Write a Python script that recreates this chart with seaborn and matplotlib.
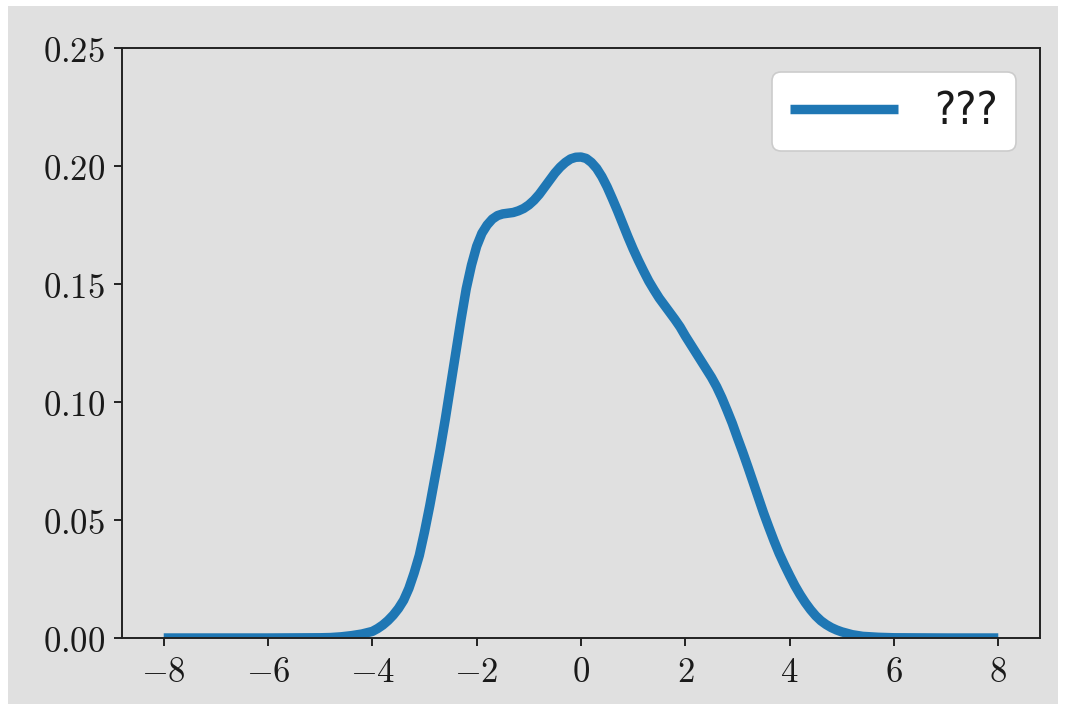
import matplotlib
matplotlib.use("Agg")
import matplotlib.pyplot as plt
from matplotlib.patches import Rectangle
from matplotlib.ticker import FuncFormatter
from matplotlib.font_manager import FontProperties
import pandas as pd
import seaborn as sns

# Density curve sampled along x
x_vals = [-8.0, -7.0, -6.0, -5.0, -4.8, -4.6, -4.4, -4.2, -4.0, -3.9, -3.8,
          -3.7, -3.6, -3.5, -3.4, -3.3, -3.2, -3.1, -3.0, -2.9, -2.8, -2.7,
          -2.6, -2.5, -2.4, -2.3, -2.2, -2.1, -2.0, -1.9, -1.8, -1.7, -1.6,
          -1.5, -1.4, -1.3, -1.2, -1.1, -1.0, -0.9, -0.8, -0.7, -0.6, -0.5,
          -0.4, -0.3, -0.2, -0.1, 0.0, 0.1, 0.2, 0.3, 0.4, 0.5, 0.6, 0.7, 0.8,
          0.9, 1.0, 1.1, 1.2, 1.3, 1.4, 1.5, 1.6, 1.7, 1.8, 1.9, 2.0, 2.1, 2.2,
          2.3, 2.4, 2.5, 2.6, 2.7, 2.8, 2.9, 3.0, 3.1, 3.2, 3.3, 3.4, 3.5, 3.6,
          3.7, 3.8, 3.9, 4.0, 4.1, 4.2, 4.3, 4.4, 4.5, 4.6, 4.7, 4.8, 4.9, 5.0,
          5.2, 5.4, 5.7, 6.0, 7.0, 8.0]
density = [0.0, 0.0, 0.0, 0.0001, 0.0002, 0.0005, 0.0010, 0.0017, 0.0028,
           0.0040, 0.0055, 0.0074, 0.0097, 0.0125, 0.0160, 0.0210, 0.0275,
           0.0350, 0.0450, 0.0560, 0.0680, 0.0800, 0.0930, 0.1070, 0.1210,
           0.1350, 0.1480, 0.1580, 0.1660, 0.1715, 0.1750, 0.1775, 0.1790,
           0.1797, 0.1800, 0.1803, 0.1810, 0.1820, 0.1835, 0.1855, 0.1880,
           0.1910, 0.1940, 0.1970, 0.1995, 0.2015, 0.2030, 0.2037, 0.2038,
           0.2032, 0.2015, 0.1990, 0.1955, 0.1912, 0.1862, 0.1810, 0.1755,
           0.1700, 0.1648, 0.1600, 0.1555, 0.1512, 0.1475, 0.1440, 0.1410,
           0.1380, 0.1350, 0.1318, 0.1280, 0.1245, 0.1210, 0.1175, 0.1140,
           0.1105, 0.1065, 0.1018, 0.0965, 0.0910, 0.0848, 0.0788, 0.0725,
           0.0660, 0.0595, 0.0530, 0.0470, 0.0412, 0.0358, 0.0310, 0.0265,
           0.0222, 0.0184, 0.0150, 0.0120, 0.0094, 0.0073, 0.0057, 0.0044,
           0.0034, 0.0026, 0.0014, 0.0007, 0.0003, 0.0001, 0.0, 0.0]
series_label = "???"

x_ticks = [-8, -6, -4, -2, 0, 2, 4, 6, 8]
y_ticks = [0.00, 0.05, 0.10, 0.15, 0.20, 0.25]

df = pd.DataFrame({"x": x_vals, "density": density})

plt.rcParams["mathtext.fontset"] = "cm"

bg = "#e0e0e0"
fig = plt.figure(figsize=(10.66, 7.10), dpi=100, facecolor="white")
# grey panel behind the whole plot
fig.patches.append(Rectangle((8 / 1066, 6 / 710), 1050 / 1066, 698 / 710,
                             transform=fig.transFigure, facecolor=bg,
                             edgecolor="none", zorder=-10))

ax = fig.add_axes([122 / 1066, 1 - 638 / 710, 918 / 1066, 590 / 710])
ax.set_facecolor(bg)

sns.lineplot(data=df, x="x", y="density", ax=ax, color="#1f77b4",
             linewidth=6.8, label=series_label, sort=False,
             solid_joinstyle="round", solid_capstyle="butt")

ax.set_xlim(-8.8, 8.8)
ax.set_ylim(0, 0.25)
ax.set_xticks(x_ticks)
ax.set_yticks(y_ticks)
ax.xaxis.set_major_formatter(FuncFormatter(lambda v, p: f"${v:.0f}$"))
ax.yaxis.set_major_formatter(FuncFormatter(lambda v, p: f"${v:.2f}$"))
ax.set_xlabel("")
ax.set_ylabel("")
ax.tick_params(axis="both", labelsize=25, length=6, width=1.4,
               color="#222222", labelcolor="#1a1a1a", pad=6)
for s in ax.spines.values():
    s.set_linewidth(1.4)
    s.set_color("#222222")

leg_font = FontProperties(family="DejaVu Sans", stretch="condensed", size=32)
leg = ax.legend(loc="upper right", prop=leg_font, frameon=True,
                handlelength=2.45, borderaxespad=0.55, borderpad=0.4,
                fancybox=True, framealpha=1.0)
leg.get_frame().set_edgecolor("#cccccc")
leg.get_frame().set_linewidth(1.2)
for t in leg.get_texts():
    t.set_color("#1a1a1a")

fig.savefig("out.png", dpi=100, facecolor="white")
